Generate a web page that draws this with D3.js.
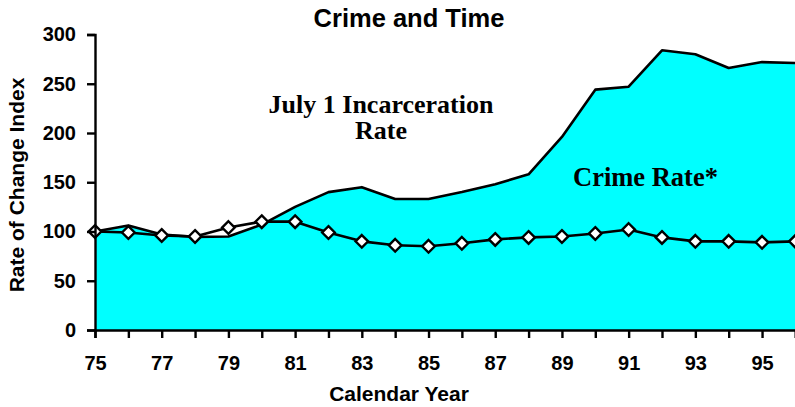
<!DOCTYPE html>
<html>
<head>
<meta charset="utf-8">
<script src="https://cdn.jsdelivr.net/npm/d3@7"></script>
<style>
  html, body { margin: 0; padding: 0; background: #fff; }
  svg { display: block; }
</style>
</head>
<body>
<svg id="chart" width="795" height="407"></svg>
<script>
// Calendar years (two-digit) plotted on the x axis
const years = [75, 76, 77, 78, 79, 80, 81, 82, 83, 84, 85, 86, 87, 88, 89, 90, 91, 92, 93, 94, 95, 96];
// July 1 incarceration rate, index (1975 = 100) — filled area
const incarcerationIndex = [100, 106, 97, 94.5, 95, 107, 125, 140, 145, 133, 133, 140, 148, 158, 196, 244, 247, 284, 280, 266, 272, 271];
// Crime rate, index (1975 = 100) — line with diamond markers
const crimeIndex = [100, 99, 96, 95, 104, 110, 110, 99, 90, 86, 85, 88, 92, 94, 95, 98, 102, 94, 90, 90, 89, 90];
// Axis tick values and labels
const yTicks = [0, 50, 100, 150, 200, 250, 300];
const xLabelYears = [75, 77, 79, 81, 83, 85, 87, 89, 91, 93, 95];

const sans = "'Liberation Sans', Arial, Helvetica, sans-serif";
const serif = "'Liberation Serif', 'Times New Roman', Times, serif";

const svg = d3.select("#chart");

const x = d3.scaleLinear().domain([75, 96]).range([95, 795.4]);
const y = d3.scaleLinear().domain([0, 300]).range([330, 34.5]);

const incData = years.map((yr, i) => ({ yr, v: incarcerationIndex[i] }));
const crimeData = years.map((yr, i) => ({ yr, v: crimeIndex[i] }));

// Filled incarceration area
svg.append("path")
  .datum(incData)
  .attr("fill", "#00FFFF")
  .attr("d", d3.area().x(d => x(d.yr)).y0(y(0)).y1(d => y(d.v)));

svg.append("path")
  .datum(incData)
  .attr("fill", "none")
  .attr("stroke", "#000")
  .attr("stroke-width", 2.6)
  .attr("stroke-linejoin", "round")
  .attr("d", d3.line().x(d => x(d.yr)).y(d => y(d.v)));

// Crime rate line
svg.append("path")
  .datum(crimeData)
  .attr("fill", "none")
  .attr("stroke", "#000")
  .attr("stroke-width", 2.6)
  .attr("stroke-linejoin", "round")
  .attr("d", d3.line().x(d => x(d.yr)).y(d => y(d.v)));

// Diamond markers
const dsz = 6.3;
svg.append("g").selectAll("path")
  .data(crimeData)
  .join("path")
  .attr("transform", d => `translate(${x(d.yr)},${y(d.v)})`)
  .attr("d", `M0,${-dsz}L${dsz},0L0,${dsz}L${-dsz},0Z`)
  .attr("fill", "#fff")
  .attr("stroke", "#000")
  .attr("stroke-width", 2.4);

// Y axis
const yAxis = svg.append("g")
  .attr("transform", `translate(${x(75)},0)`)
  .call(d3.axisLeft(y).tickValues(yTicks).tickSize(8).tickPadding(11).tickFormat(d3.format("d")));
yAxis.select(".domain").attr("stroke", "#000").attr("stroke-width", 2.4);
yAxis.selectAll(".tick line").attr("stroke", "#000").attr("stroke-width", 2.4);
yAxis.selectAll(".tick text")
  .attr("font-family", sans).attr("font-weight", "bold").attr("font-size", 20).attr("fill", "#000");

// X axis: ticks every year, labels every other year
const xAxis = svg.append("g")
  .attr("transform", `translate(0,${y(0)})`)
  .call(d3.axisBottom(x).tickValues(years).tickSize(8).tickPadding(18)
    .tickFormat(d => xLabelYears.includes(d) ? String(d) : ""));
xAxis.select(".domain").attr("stroke", "#000").attr("stroke-width", 2.4);
xAxis.selectAll(".tick line").attr("stroke", "#000").attr("stroke-width", 2.4);
xAxis.selectAll(".tick text")
  .attr("font-family", sans).attr("font-weight", "bold").attr("font-size", 20).attr("fill", "#000");

// Title
svg.append("text")
  .attr("x", 409).attr("y", 26.5)
  .attr("text-anchor", "middle")
  .attr("font-family", sans).attr("font-weight", "bold").attr("font-size", 25.5)
  .text("Crime and Time");

// Axis titles
svg.append("text")
  .attr("x", 399).attr("y", 401)
  .attr("text-anchor", "middle")
  .attr("font-family", sans).attr("font-weight", "bold").attr("font-size", 21)
  .text("Calendar Year");

svg.append("text")
  .attr("transform", "translate(24,185) rotate(-90)")
  .attr("text-anchor", "middle")
  .attr("font-family", sans).attr("font-weight", "bold").attr("font-size", 21)
  .text("Rate of Change Index");

// Series annotations
svg.append("text")
  .attr("x", 381).attr("y", 112.5)
  .attr("text-anchor", "middle")
  .attr("font-family", serif).attr("font-weight", "bold").attr("font-size", 26)
  .text("July 1 Incarceration");
svg.append("text")
  .attr("x", 381).attr("y", 139)
  .attr("text-anchor", "middle")
  .attr("font-family", serif).attr("font-weight", "bold").attr("font-size", 26)
  .text("Rate");

svg.append("text")
  .attr("x", 573).attr("y", 185.5)
  .attr("font-family", serif).attr("font-weight", "bold").attr("font-size", 26.5)
  .text("Crime Rate*");
</script>
</body>
</html>
